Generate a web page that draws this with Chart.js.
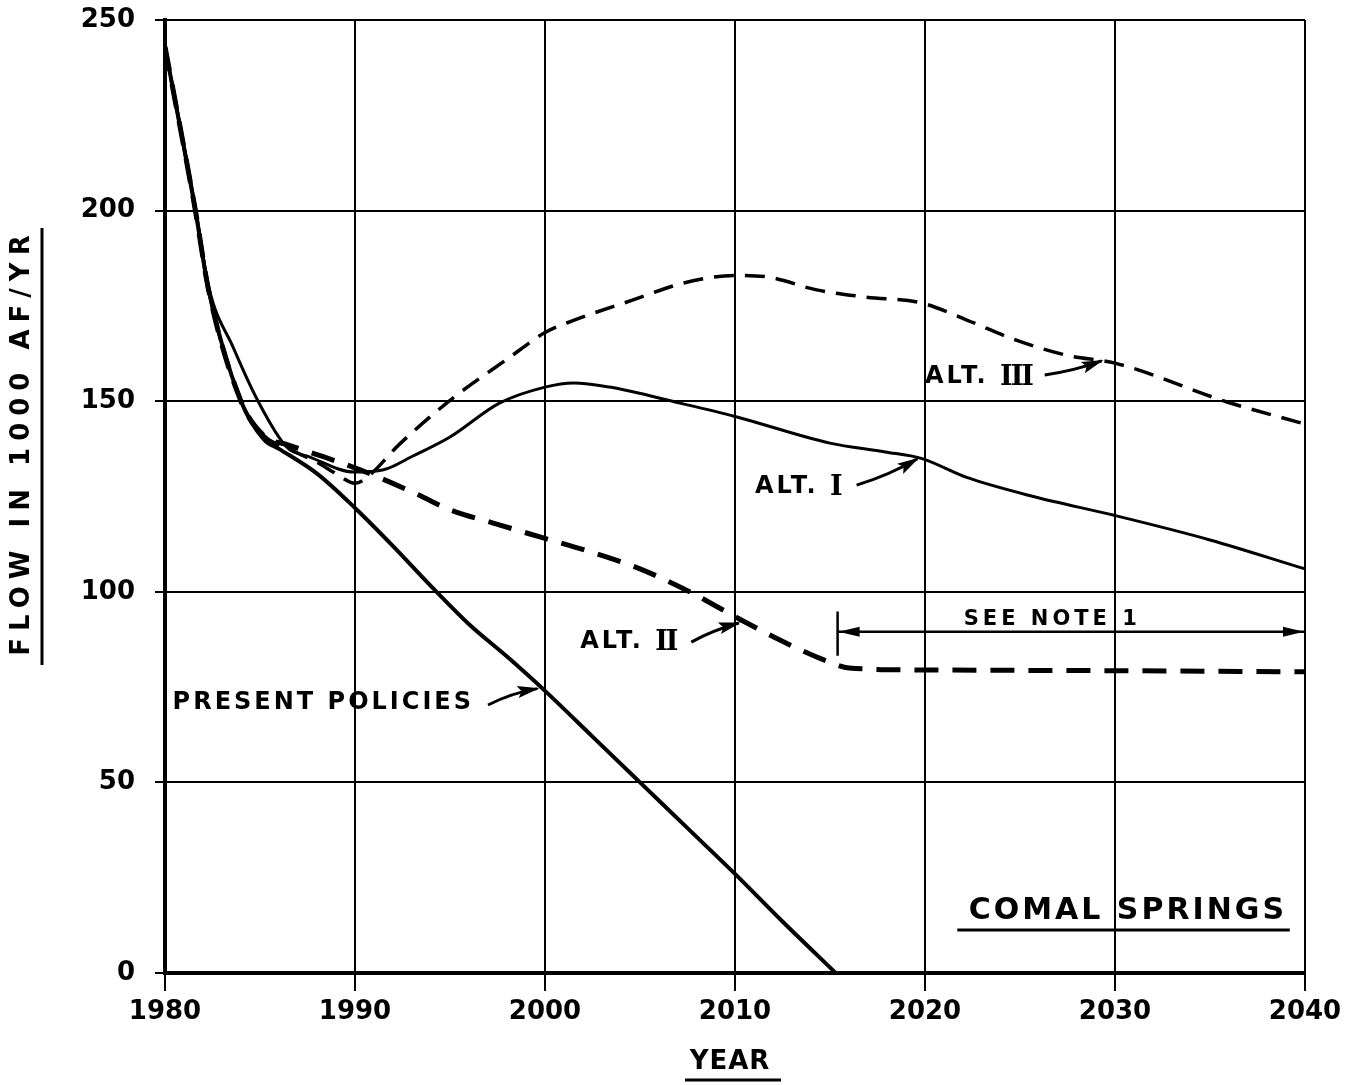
<!DOCTYPE html>
<html>
<head>
<meta charset="utf-8">
<script src="https://cdn.jsdelivr.net/npm/chart.js@4.4.0/dist/chart.umd.min.js"></script>
<style>
  body { margin: 0; background: #fff; }
  #wrap { width: 1362px; height: 1085px; }
</style>
</head>
<body>
<div id="wrap"><canvas id="comal"></canvas></div>
<script>
// tick values
const tickYears = [1980, 1990, 2000, 2010, 2020, 2030, 2040];
const tickFlows = [0, 50, 100, 150, 200, 250];

// flow in 1000 AF/YR
const presentYears = [1980, 1981.6, 1982.3, 1984, 1985.2, 1986, 1988, 1990, 1992, 1994, 1996, 1998, 2000, 2002.5, 2005, 2007.5, 2010, 2012.5, 2015.3];
const presentFlow  = [243, 200, 179, 150, 140, 137.5, 131, 122, 112, 101.5, 91.5, 83, 74, 62, 50, 38, 26, 13.5, 0];

const alt1Years = [1980, 1981.6, 1982.3, 1983.6, 1984.9, 1986.4, 1987.6, 1990, 1991.5, 1993, 1995, 1997.6, 2000, 2001.5, 2003.4, 2007.1, 2010, 2015, 2017.9, 2019.8, 2022.2, 2025.7, 2030, 2035, 2040];
const alt1Flow  = [243, 201, 180, 164, 150, 138, 135.4, 131.4, 132, 135.5, 140.6, 149.5, 153.7, 154.8, 153.7, 149.5, 146, 139, 136.7, 135, 130, 125, 120, 113.6, 106];

const alt2Years = [1980, 1981.6, 1982.3, 1984, 1985.2, 1986.5, 1988, 1990, 1991.5, 1993.3, 1995, 1997.5, 2000, 2002.5, 2005, 2007.5, 2010, 2012.5, 2015, 2016, 2020, 2030, 2040];
const alt2Flow  = [243, 200, 179, 150, 141, 138.5, 136, 132.5, 129.5, 125.5, 121.5, 117.7, 114, 110.3, 106, 100.3, 93.5, 87, 81.5, 80, 79.5, 79.3, 79];

const alt3Years = [1980, 1981.6, 1982.3, 1984, 1985.2, 1986.5, 1988, 1989, 1990, 1990.5, 1992.4, 1995.2, 1998, 2000, 2001.4, 2004.6, 2007.3, 2010, 2011.7, 2014.3, 2016.9, 2019.8, 2022.2, 2024.8, 2027.5, 2030, 2035.9, 2040];
const alt3Flow  = [243, 200, 179, 150, 141, 137.5, 134, 131, 128.5, 129.5, 139, 151, 161, 168, 171, 176.5, 181, 183, 182.6, 179.2, 177.3, 175.8, 171.3, 166, 162, 160, 149.8, 144];

function pts(xs, ys) {
  return xs.map(function(x, i) { return {x: x, y: ys[i]}; });
}

// curve labels with their arrows (data coords)
const notes = [
  {pre: 'PRESENT POLICIES', num: '', at: [1980.4, 70.8], from: [1997.0, 70.3], to: [1999.6, 74.6], bend: -4},
  {pre: 'ALT. ', num: 'II', at: [2001.85, 86.8], from: [2007.7, 86.8], to: [2010.2, 91.8], bend: -3},
  {pre: 'ALT. ', num: 'I', at: [2011.05, 127.5], from: [2016.4, 128], to: [2019.6, 134.9], bend: 4},
  {pre: 'ALT. ', num: 'III', at: [2020.0, 156.3], from: [2026.3, 156.9], to: [2029.3, 160.6], bend: 3}
];

const SANS = '"DejaVu Sans", sans-serif';
const SERIF = '"DejaVu Serif", serif';

function arrow(ctx, x0, y0, x1, y1, bend) {
  var mx = (x0 + x1) / 2, my = (y0 + y1) / 2;
  var dx = x1 - x0, dy = y1 - y0;
  var len = Math.sqrt(dx * dx + dy * dy);
  var cx = mx - dy / len * bend, cy = my + dx / len * bend;
  ctx.beginPath();
  ctx.moveTo(x0, y0);
  ctx.quadraticCurveTo(cx, cy, x1, y1);
  ctx.lineWidth = 3;
  ctx.stroke();
  var ang = Math.atan2(y1 - cy, x1 - cx);
  ctx.save();
  ctx.translate(x1, y1);
  ctx.rotate(ang);
  ctx.beginPath();
  ctx.moveTo(2, 0);
  ctx.lineTo(-20, -6);
  ctx.lineTo(-16, 0);
  ctx.lineTo(-20, 6);
  ctx.closePath();
  ctx.fill();
  ctx.restore();
}

const notesPlugin = {
  id: 'notes',
  afterDatasetsDraw: function(chart) {
    var ctx = chart.ctx, sx = chart.scales.x, sy = chart.scales.y;
    ctx.save();
    ctx.fillStyle = '#000';
    ctx.strokeStyle = '#000';
    ctx.textBaseline = 'middle';

    notes.forEach(function(n) {
      var x = sx.getPixelForValue(n.at[0]), y = sy.getPixelForValue(n.at[1]);
      ctx.font = 'bold 24px ' + SANS;
      ctx.letterSpacing = '3px';
      ctx.textAlign = 'left';
      ctx.fillText(n.pre, x, y);
      var w = ctx.measureText(n.pre).width;
      if (n.num) {
        ctx.font = 'bold 27px ' + SERIF;
        ctx.letterSpacing = '-2px';
        ctx.fillText(n.num, x + w, y + 1);
      }
      arrow(ctx, sx.getPixelForValue(n.from[0]), sy.getPixelForValue(n.from[1]),
        sx.getPixelForValue(n.to[0]), sy.getPixelForValue(n.to[1]), n.bend);
    });

    // see note 1 span
    var nx0 = sx.getPixelForValue(2015.4), nx1 = sx.getPixelForValue(2040);
    var ny = sy.getPixelForValue(89.5);
    ctx.lineWidth = 2.5;
    ctx.beginPath();
    ctx.moveTo(nx0, sy.getPixelForValue(94.8));
    ctx.lineTo(nx0, sy.getPixelForValue(83.2));
    ctx.moveTo(nx0, ny);
    ctx.lineTo(nx1, ny);
    ctx.stroke();
    [[nx0, 0], [nx1, Math.PI]].forEach(function(a) {
      ctx.save();
      ctx.translate(a[0], ny);
      ctx.rotate(a[1]);
      ctx.beginPath();
      ctx.moveTo(1, 0);
      ctx.lineTo(22, -5);
      ctx.lineTo(22, 5);
      ctx.closePath();
      ctx.fill();
      ctx.restore();
    });
    ctx.font = 'bold 21px ' + SANS;
    ctx.letterSpacing = '4px';
    ctx.textAlign = 'center';
    ctx.fillText('SEE NOTE 1', sx.getPixelForValue(2026.7), sy.getPixelForValue(92.6));

    // site name
    ctx.font = 'bold 30px ' + SANS;
    ctx.letterSpacing = '3px';
    ctx.textAlign = 'left';
    ctx.fillText('COMAL SPRINGS', sx.getPixelForValue(2022.3), sy.getPixelForValue(16.3));
    ctx.lineWidth = 3;
    ctx.beginPath();
    ctx.moveTo(sx.getPixelForValue(2021.7), sy.getPixelForValue(11.3));
    ctx.lineTo(sx.getPixelForValue(2039.2), sy.getPixelForValue(11.3));
    ctx.stroke();

    // axis titles
    ctx.font = 'bold 26px ' + SANS;
    ctx.letterSpacing = '1px';
    ctx.textAlign = 'center';
    ctx.fillText('YEAR', 730, 1062);
    ctx.beginPath();
    ctx.moveTo(685, 1080);
    ctx.lineTo(781, 1080);
    ctx.stroke();

    ctx.save();
    ctx.translate(22, 446);
    ctx.rotate(-Math.PI / 2);
    ctx.font = 'bold 26px ' + SANS;
    ctx.letterSpacing = '7px';
    ctx.fillText('FLOW IN 1000 AF/YR', 4, 0);
    ctx.restore();
    ctx.beginPath();
    ctx.moveTo(42, 228);
    ctx.lineTo(42, 665);
    ctx.stroke();

    ctx.restore();
  }
};

function line(data, width, dash) {
  return {
    data: data,
    borderColor: '#000',
    borderWidth: width,
    borderDash: dash,
    pointRadius: 0,
    fill: false,
    cubicInterpolationMode: 'monotone'
  };
}

var ctx = document.getElementById('comal').getContext('2d');
var chart = new Chart(ctx, {
  type: 'line',
  data: {
    datasets: [
      line(pts(presentYears, presentFlow), 4, []),
      line(pts(alt1Years, alt1Flow), 3, []),
      line(pts(alt2Years, alt2Flow), 5, [24, 14]),
      line(pts(alt3Years, alt3Flow), 3.5, [20, 11])
    ]
  },
  options: {
    responsive: true,
    maintainAspectRatio: false,
    animation: false,
    layout: { padding: { top: 20, right: 57, left: 0, bottom: 0 } },
    plugins: { legend: { display: false }, tooltip: { enabled: false } },
    scales: {
      x: {
        type: 'linear',
        min: 1980,
        max: 2040,
        afterBuildTicks: function(s) { s.ticks = tickYears.map(function(v) { return {value: v}; }); },
        afterFit: function(s) { s.height = 112; s.paddingLeft = 0; s.paddingRight = 0; },
        grid: { color: '#000', lineWidth: 2, tickLength: 18, drawTicks: true },
        border: { display: true, color: '#000', width: 4 },
        ticks: {
          color: '#000',
          padding: 6,
          maxRotation: 0,
          font: { family: SANS, size: 26, weight: 'bold' },
          callback: function(v) { return String(v); }
        }
      },
      y: {
        min: 0,
        max: 250,
        afterBuildTicks: function(s) { s.ticks = tickFlows.map(function(v) { return {value: v}; }); },
        afterFit: function(s) { s.width = 165; s.paddingTop = 0; s.paddingBottom = 0; },
        grid: { color: '#000', lineWidth: 2, tickLength: 10, drawTicks: true },
        border: { display: true, color: '#000', width: 4 },
        ticks: {
          color: '#000',
          padding: 20,
          font: { family: SANS, size: 26, weight: 'bold' },
          callback: function(v) { return String(v); }
        }
      }
    }
  },
  plugins: [notesPlugin]
});
</script>
</body>
</html>
